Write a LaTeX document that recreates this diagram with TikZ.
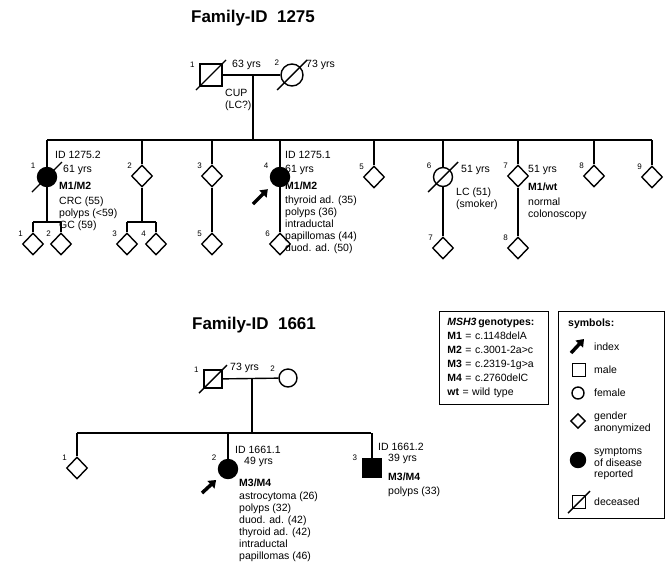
\documentclass[tikz,border=0pt]{standalone}
\usepackage{fontspec}
\setmainfont{Liberation Sans}
\usetikzlibrary{shapes.geometric,arrows.meta}
\newcommand{\deadmark}[2][15]{\draw[line] ([shift={(-#1,#1)}]#2.center) -- ([shift={(#1,-#1)}]#2.center);}
\begin{document}
\begin{tikzpicture}[
x=1pt, y=-1pt,
label distance=8pt,
line/.style={line width=1.4pt},
person/.style={draw, line width=1.4pt, inner sep=0pt},
male/.style={person, rectangle, minimum size=#1}, male/.default=19pt,
female/.style={person, circle, minimum size=#1}, female/.default=19pt,
anon/.style={person, diamond, minimum width=21pt, minimum height=22pt},
sick/.style={fill=black},
num/.style={font=\fontsize{8}{9}\selectfont, inner sep=0pt, anchor=center},
kid/.style={label={[num]140:#1}},
info/.style={font=\fontsize{10.5}{12}\selectfont, inner sep=0pt, align=left, anchor=north west},
geno/.style={info, anchor=west, font=\bfseries\fontsize{10.5}{12}\selectfont},
title/.style={font=\bfseries\fontsize{17}{20}\selectfont},
indexarrow/.style={-{Triangle[length=7pt,width=10pt]}, line width=3.5pt},
legbox/.style={draw, line width=0.8pt, anchor=north west, inner sep=0pt}
]
\useasboundingbox (0,0) rectangle (668,563);

% family 1275
\node[title] (t1) at (253,18) {Family-ID~~1275};
\node[male=22pt, label distance=0pt, label={[num]150:1}] (f1) at (211,75) {};
\node[female=22pt, label distance=5pt, label={[num]140:2}] (m1) at (292,75) {};
\deadmark{f1}
\deadmark{m1}
\node[info, anchor=west] (f1age) at (232,65) {63 yrs};
\node[info, anchor=west] (m1age) at (306,65) {73 yrs};
\node[info] (f1dx) at (225,89) {CUP\\(LC?)};
\coordinate (p1) at (253,75);
\coordinate (s1L) at (47,140);
\coordinate (s1R) at (652,140);

\node[female, sick, kid=1] (c1) at (47,177) {};
\node[anon, kid=2] (c2) at (142,176) {};
\node[anon, kid=3] (c3) at (212,176) {};
\node[female, sick, kid=4] (c4) at (280,177) {};
\node[anon, kid=5] (c5) at (374,177) {};
\node[female, kid=6] (c6) at (443,177) {};
\node[anon, kid=7] (c7) at (518,176) {};
\node[anon, kid=8] (c8) at (594,176) {};
\node[anon, kid=9] (c9) at (652,177) {};
\deadmark{c1}
\deadmark{c6}

\node[anon, kid=1] (g1) at (33,244) {};
\node[anon, kid=2] (g2) at (61,244) {};
\node[anon, kid=3] (g3) at (127,244) {};
\node[anon, kid=4] (g4) at (156,244) {};
\node[anon, kid=5] (g5) at (212,244) {};
\node[anon, kid=6] (g6) at (280,244) {};
\node[anon, kid=7] (g7) at (443,248) {};
\node[anon, kid=8] (g8) at (518,248) {};
\coordinate (s2L) at (33,222);
\coordinate (s2R) at (61,222);
\coordinate (s3L) at (127,222);
\coordinate (s3R) at (156,222);

\node[info, anchor=west] (c1id) at (55,155) {ID 1275.2};
\node[info, anchor=west] (c1age) at (63,170) {61 yrs};
\node[geno] (c1gt) at (59,186) {M1/M2};
\node[info] (c1dx) at (59,197) {CRC (55)\\polyps (<59)\\GC (59)};
\node[info, anchor=west] (c4id) at (285,155) {ID 1275.1};
\node[info, anchor=west] (c4age) at (285,170) {61 yrs};
\node[geno] (c4gt) at (285,186) {M1/M2};
\node[info] (c4dx) at (285,196) {thyroid ad. (35)\\polyps (36)\\intraductal\\papillomas (44)\\duod. ad. (50)};
\node[info, anchor=west] (c6age) at (461,170) {51 yrs};
\node[info] (c6dx) at (456,188) {LC (51)\\(smoker)};
\node[info, anchor=west] (c7age) at (528,170) {51 yrs};
\node[geno] (c7gt) at (528,187) {M1/wt};
\node[info] (c7dx) at (528,198) {normal\\colonoscopy};

\draw[line] (f1) -- (m1);
\draw[line] (p1) -- (p1 |- s1L);
\draw[line] (s1L) -- (s1R);
\foreach \k in {c1,c2,c3,c4,c5,c6,c7,c8,c9}
  \draw[line] (\k) -- (\k |- s1L);
\draw[line] (c1) -- (c1 |- s2L);
\draw[line] (s2L) -- (s2R);
\draw[line] (g1) -- (g1 |- s2L);
\draw[line] (g2) -- (g2 |- s2L);
\draw[line] (c2) -- (c2 |- s3L);
\draw[line] (s3L) -- (s3R);
\draw[line] (g3) -- (g3 |- s3L);
\draw[line] (g4) -- (g4 |- s3L);
\draw[line] (c3) -- (g5);
\draw[line] (c4) -- (g6);
\draw[line] (c6) -- (g7);
\draw[line] (c7) -- (g8);
\coordinate (i1) at (253,204);
\draw[indexarrow, shorten >=7pt] (i1) -- (c4);

% family 1661
\node[title] (t2) at (254,325) {Family-ID~~1661};
\node[male=18pt, label={[num]150:1}] (f2) at (213,379) {};
\node[female=18pt, label={[num]150:2}] (m2) at (288,378) {};
\deadmark[14]{f2}
\node[info, anchor=west] (f2age) at (230,368) {73 yrs};
\coordinate (p2) at (252,378);
\coordinate (s4L) at (77,433);
\coordinate (s4R) at (371,433);

\node[anon, kid=1] (d1) at (77,468) {};
\node[female=19pt, sick, kid=2] (d2) at (228,469) {};
\node[male=19pt, sick, label={[num]150:3}] (d3) at (372,468) {};
\node[info, anchor=west] (d2id) at (235,450) {ID 1661.1};
\node[info, anchor=west] (d2age) at (244,462) {49 yrs};
\node[geno] (d2gt) at (239,483) {M3/M4};
\node[info] (d2dx) at (239,492) {astrocytoma (26)\\polyps (32)\\duod. ad. (42)\\thyroid ad. (42)\\intraductal\\papillomas (46)};
\node[info, anchor=west] (d3id) at (378,447) {ID 1661.2};
\node[info, anchor=west] (d3age) at (388,459) {39 yrs};
\node[geno] (d3gt) at (388,477) {M3/M4};
\node[info, anchor=west] (d3dx) at (388,492) {polyps (33)};

\draw[line] (f2) -- (m2);
\draw[line] (p2) -- (p2 |- s4L);
\draw[line] (s4L) -- (s4R);
\foreach \k in {d1,d2,d3}
  \draw[line] (\k) -- (\k |- s4L);
\coordinate (i2) at (202,493);
\draw[indexarrow, shorten >=6pt] (i2) -- (d2);

% legends
\node[legbox, text width=93pt, inner xsep=8pt, inner ysep=5pt, minimum height=93pt, align=left, font=\fontsize{10.5}{14}\selectfont] (genobox) at (439,311)
  {\textbf{\textit{MSH3}\,genotypes:}\\\textbf{M1} = c.1148delA\\\textbf{M2} = c.3001-2a>c\\\textbf{M3} = c.2319-1g>a\\\textbf{M4} = c.2760delC\\\textbf{wt} = wild type};

\node[legbox, minimum width=106pt, minimum height=207pt] (symbox) at (558,311) {};
\node[geno] (symtitle) at (568,324) {symbols:};
\coordinate (la) at (571,353);
\coordinate (lb) at (584,339);
\draw[indexarrow] (la) -- (lb);
\node[info, anchor=west] (lindex) at (594,347) {index};
\node[male=13pt] (lmale) at (579,370) {};
\node[info, anchor=west] (lmaletx) at (594,370) {male};
\node[female=12pt] (lfemale) at (578,393) {};
\node[info, anchor=west] (lfemaletx) at (594,393) {female};
\node[anon, minimum width=15pt, minimum height=15pt] (lanon) at (578,421) {};
\node[info] (lanontx) at (594,412) {gender\\anonymized};
\node[female=15pt, sick] (lsick) at (578,460) {};
\node[info] (lsicktx) at (594,447) {symptoms\\of disease\\reported};
\node[male=13pt] (ldead) at (579,502) {};
\deadmark[11]{ldead}
\node[info, anchor=west] (ldeadtx) at (594,502) {deceased};
\end{tikzpicture}
\end{document}
